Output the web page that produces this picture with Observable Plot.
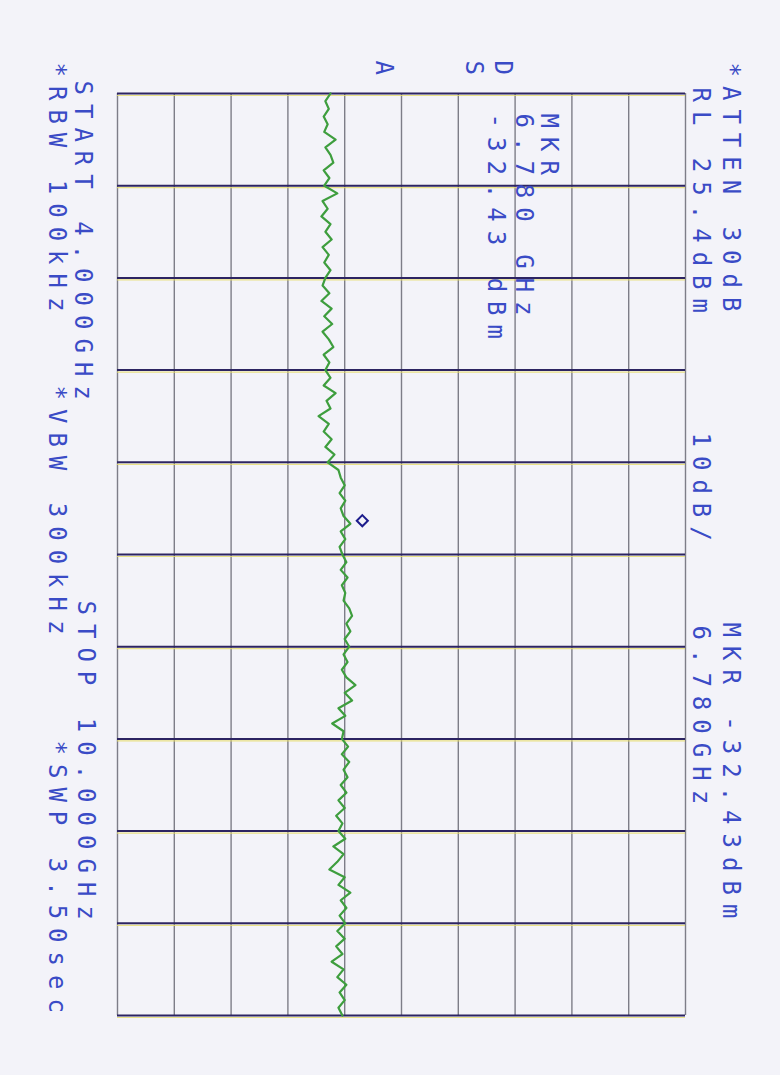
<!DOCTYPE html>
<html>
<head>
<meta charset="utf-8">
<script src="https://cdn.jsdelivr.net/npm/d3@7"></script>
<script src="https://cdn.jsdelivr.net/npm/@observablehq/plot@0.6"></script>
<style>
  html, body { margin: 0; padding: 0; background: #f3f3f9; }
  .sa text { letter-spacing: 9px; }
</style>
</head>
<body>
<div id="chart"></div>
<script>
// ---- instrument settings ----
const refLevel = 25.4;        // dBm (RL)
const dbPerDiv = 10;
const startGHz = 4.0;
const stopGHz = 10.0;
const stepGHz = 0.05;         // sweep step between read points
const markerGHz = 6.78;
const markerDbm = -32.43;     // marker readout
const markerPlotDbm = -31.5;  // where the diamond is drawn in the picture

// ---- trace levels (dBm), 4.00 → 10.00 GHz ----
const levels = [
  -37.1, -38.0, -37.4, -38.3, -37.6, -38.2, -36.2, -38.0, -37.1, -36.6,
  -38.3, -37.3, -38.2, -35.9, -38.5, -37.6, -38.7, -37.1, -38.0, -36.9,
  -38.5, -37.4, -38.2, -37.1, -38.0, -38.5, -37.3, -38.7, -36.9, -38.2,
  -36.8, -38.5, -37.4, -36.6, -38.3, -37.3, -38.0, -37.1, -38.3, -36.2,
  -37.8, -37.1, -39.2, -37.4, -38.3, -36.9, -38.0, -36.4, -37.6, -35.7,
  -35.3, -34.6, -35.5, -34.5, -35.3, -34.8, -33.6, -35.3, -34.5, -35.5,
  -35.0, -34.3, -35.3, -34.1, -35.1, -34.5, -34.8, -33.8, -33.3, -34.3,
  -33.6, -34.6, -33.8, -34.8, -34.1, -35.1, -34.3, -32.7, -34.6, -33.3,
  -35.7, -34.5, -36.8, -34.8, -35.1, -34.0, -35.1, -33.8, -34.8, -34.1,
  -35.3, -34.3, -35.7, -34.6, -36.1, -35.0, -35.7, -34.5, -36.6, -34.8,
  -35.9, -37.3, -34.6, -35.7, -33.6, -35.3, -34.3, -35.5, -34.5, -35.9,
  -34.6, -36.1, -35.0, -36.9, -34.8, -35.9, -34.3, -35.5, -34.6, -35.7,
  -35.0
];
const freqs = levels.map((_, i) => startGHz + i * stepGHz);
const trace = levels.map((v, i) => ({freq: freqs[i], level: v}));

// ---- graticule ----
const ampLines = d3.range(11).map(i => refLevel - dbPerDiv * i);
const freqLines = d3.range(11).map(i => startGHz + (stopGHz - startGHz) * i / 10);

// ---- annotation texts ----
const txtAtten = "*ATTEN 30dB";
const txtRL = "RL 25.4dBm";
const txtScale = "10dB/";
const txtMkrTop = "MKR -32.43dBm";
const txtMkrTopF = "6.780GHz";
const txtMkr = "MKR";
const txtMkrF = "6.780 GHz";
const txtMkrA = "-32.43 dBm";
const txtD = "D", txtS = "S", txtA = "A";
const txtStart = "START 4.000GHz";
const txtRBW = "*RBW 100kHz";
const txtVBW = "*VBW 300kHz";
const txtStop = "STOP 10.000GHz";
const txtSWP = "*SWP 3.50sec";

const ink = "#3a4bc6";
function label(t, dx, dy) {
  return Plot.text([t], {
    frameAnchor: "top-left", dx, dy, rotate: 90,
    textAnchor: "start", lineAnchor: "middle",
    fill: ink, fontSize: 24, fontFamily: "DejaVu Sans Mono"
  });
}

const chart = Plot.plot({
  width: 780, height: 1075,
  marginTop: 93, marginBottom: 60, marginLeft: 117, marginRight: 95,
  className: "sa",
  style: {background: "#f3f3f9", overflow: "visible"},
  x: {domain: [refLevel - 10 * dbPerDiv, refLevel], axis: null},
  y: {domain: [startGHz, stopGHz], reverse: true, axis: null},
  marks: [
    Plot.ruleX(ampLines, {stroke: "#7d7d88", strokeWidth: 1.4}),
    Plot.ruleY(freqLines, {stroke: "#e6dc6a", strokeWidth: 1.2, dy: 2, strokeOpacity: 0.8}),
    Plot.ruleY(freqLines, {stroke: "#2c2462", strokeWidth: 2}),
    Plot.line(trace, {x: "level", y: "freq", stroke: "#3e9e3e", strokeWidth: 2.2}),
    Plot.dot([{f: markerGHz, v: markerPlotDbm}], {x: "v", y: "f", symbol: "diamond2", r: 5, stroke: "#1c1c8c", strokeWidth: 2, fill: "none"}),
    label(txtAtten, 613, -31),
    label(txtRL, 583, -6),
    label(txtScale, 583, 339),
    label(txtMkrTop, 613, 529),
    label(txtMkrTopF, 583, 532),
    label(txtMkr, 431, 20),
    label(txtMkrF, 406, 20),
    label(txtMkrA, 378, 20),
    label(txtD, 385, -33),
    label(txtS, 356, -33),
    label(txtA, 266, -33),
    label(txtStart, -35, -13),
    label(txtRBW, -61, -31),
    label(txtVBW, -61, 292),
    label(txtStop, -32, 507),
    label(txtSWP, -61, 647)
  ]
});
document.getElementById("chart").appendChild(chart);
</script>
</body>
</html>
